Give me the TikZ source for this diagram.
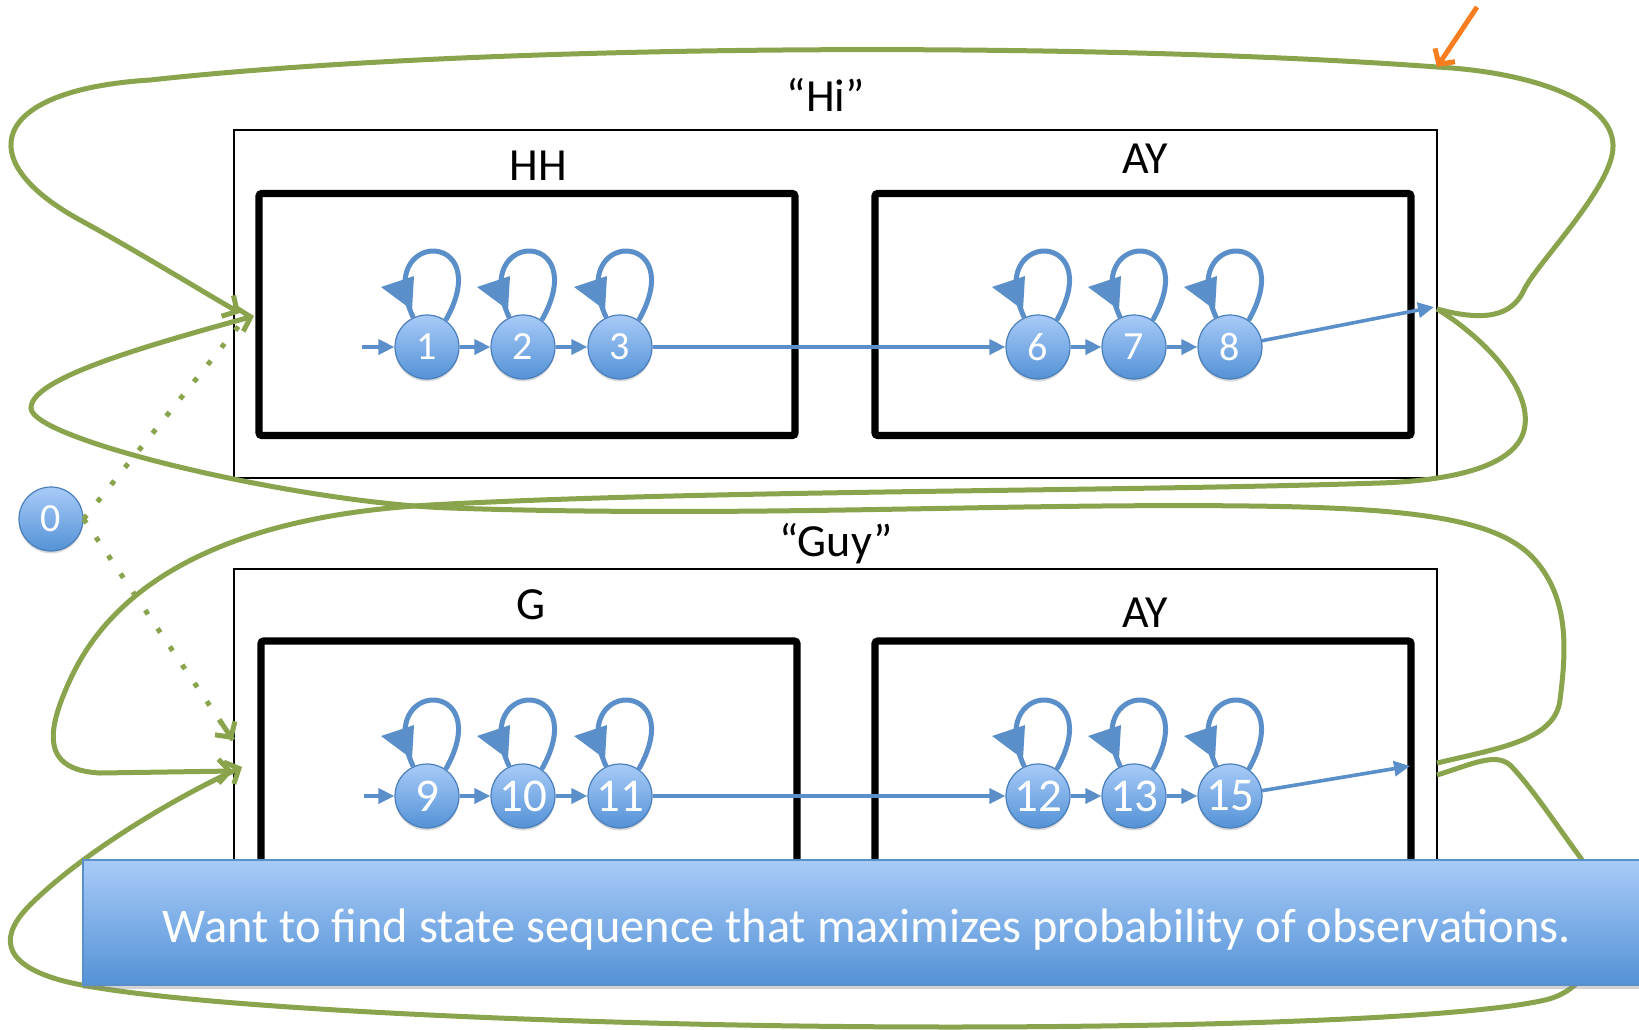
\documentclass[tikz,border=0pt]{standalone}
\usepackage{fontspec}
\setmainfont{Carlito}
\usetikzlibrary{arrows.meta,calc,shadows}

\definecolor{pathgreen}{RGB}{137,164,76}
\definecolor{stateblue}{RGB}{91,143,201}
\definecolor{stateedge}{RGB}{74,126,187}
\definecolor{statetop}{RGB}{168,203,248}
\definecolor{statebot}{RGB}{84,146,214}
\definecolor{pointer}{RGB}{247,125,30}

\tikzset{
  state/.style={circle,minimum size=32pt,inner sep=0pt,draw=stateedge,line width=0.6pt,
    top color=statetop,bottom color=statebot,text=white,font=\fontsize{20pt}{20pt}\selectfont,
    drop shadow={opacity=0.3,shadow xshift=0pt,shadow yshift=-1.2pt}},
  bigstate/.style={state,font=\fontsize{23.5pt}{23.5pt}\selectfont},
  wordbox/.style={draw,line width=0.9pt,minimum width=601.5pt,minimum height=174pt,inner sep=0pt},
  phonebox/.style={draw,line width=3.7pt,rounded corners=1.5pt,minimum width=268pt,minimum height=121pt,inner sep=0pt},
  boxlabel/.style={anchor=base,inner sep=0pt,font=\fontsize{23pt}{23pt}\selectfont},
  hop/.style={stateblue,line width=1.8pt,-{Triangle[length=8pt,width=7.5pt]}},
  selfloop/.style={stateblue,line width=2.5pt},
  wordpath/.style={pathgreen,line width=2.5pt,-{Straight Barb[length=5.5pt,width=12pt]}},
  startlink/.style={pathgreen,line width=2.5pt,dash pattern=on 2.5pt off 8.5pt},
  banner/.style={draw=stateblue,line width=0.6pt,top color=statetop,bottom color=statebot,
    minimum width=784pt,minimum height=62.5pt,inner sep=0pt,text=white,
    text height=19.5pt,text depth=0pt,font=\fontsize{24.2pt}{24.2pt}\selectfont,
    drop shadow={opacity=0.35,shadow xshift=0pt,shadow yshift=-2pt}}
}

% self transition: loop plus its arrow head
\newcommand{\stateloop}[1]{%
  \draw[selfloop] (#1.115) .. controls +(-41,-89) and +(52,-92) .. (#1.55);
  \fill[stateblue] ($(#1)+(-46,-60)$) -- ($(#1)+(-13,-71)$) -- ($(#1)+(-15,-37)$) -- cycle;}

\begin{document}
\begin{tikzpicture}[x=0.5pt,y=-0.5pt]
	\useasboundingbox (0,0) rectangle (1639,1029);

	% words and phones
	\node[wordbox] (HI) at (835.5,304) {};
	\node[phonebox] (HH) at (527,314.5) {};
	\node[phonebox] (AYA) at (1143,314.5) {};
	\node[wordbox] (GUY) at (835.5,743) {};
	\node[phonebox] (G) at (529,762) {};
	\node[phonebox] (AYB) at (1143,762) {};

	\node[boxlabel] (HIL) at (826,111) {“Hi”};
	\node[boxlabel] (HHL) at (538,180) {HH};
	\node[boxlabel] (AYAL) at (1145,173) {AY};
	\node[boxlabel] (GUYL) at (836,556) {“Guy”};
	\node[boxlabel] (GL) at (531,619) {G};
	\node[boxlabel] (AYBL) at (1145,627) {AY};

	% states
	\node[state] (S0) at (51,519) {0};
	\node[state] (S1) at (427,347) {1};
	\node[state] (S2) at (523,347) {2};
	\node[state] (S3) at (620,347) {3};
	\node[state] (S6) at (1038,347) {6};
	\node[state] (S7) at (1134,347) {7};
	\node[state] (S8) at (1230,347) {8};
	\node[bigstate] (S9) at (427,796) {9};
	\node[bigstate] (S10) at (523,796) {10};
	\node[bigstate] (S11) at (620,796) {11};
	\node[bigstate] (S12) at (1038,796) {12};
	\node[bigstate] (S13) at (1134,796) {13};
	\node[bigstate] (S15) at (1230,796) {15};

	\coordinate (HIIN) at (362,347);
	\coordinate (HIOUT) at (1434,307);
	\coordinate (GUYIN) at (364,796);
	\coordinate (GUYOUT) at (1410,766);

	\draw[hop] (HIIN)--(S1);
	\draw[hop] (S1)--(S2);
	\draw[hop] (S2)--(S3);
	\draw[hop] (S3)--(S6);
	\draw[hop] (S6)--(S7);
	\draw[hop] (S7)--(S8);
	\draw[hop] (S8)--(HIOUT);
	\draw[hop] (GUYIN)--(S9);
	\draw[hop] (S9)--(S10);
	\draw[hop] (S10)--(S11);
	\draw[hop] (S11)--(S12);
	\draw[hop] (S12)--(S13);
	\draw[hop] (S13)--(S15);
	\draw[hop] (S15)--(GUYOUT);

	\stateloop{S1} \stateloop{S2} \stateloop{S3}
	\stateloop{S6} \stateloop{S7} \stateloop{S8}
	\stateloop{S9} \stateloop{S10} \stateloop{S11}
	\stateloop{S12} \stateloop{S13} \stateloop{S15}

	% word to word transitions
	\coordinate (A) at (1437,309);
	\coordinate (B) at (240,313);
	\coordinate (C) at (254,316);
	\coordinate (D) at (1437,763);
	\coordinate (E) at (1437,775);
	\coordinate (F) at (233,771);
	\coordinate (H) at (242,767);
	\coordinate (HIDOT) at (246,317);
	\coordinate (GUYDOT) at (233,740);
	\coordinate (TIP) at (1437,67);
	\coordinate (TAIL) at (1477,7);

	\draw[wordpath] (A) .. controls (1485,322) and (1512,316) .. (1524,290)
		.. controls (1536,264) and (1615,185) .. (1613,145)
		.. controls (1612,100) and (1530,72) .. (TIP)
		.. controls (1100,42) and (500,42) .. (150,80)
		.. controls (-10,90) and (-30,160) .. (80,220)
		.. controls (135,250) and (200,290) .. (B);
	\draw[wordpath] (A) .. controls (1480,335) and (1530,385) .. (1525,425)
		.. controls (1520,470) and (1440,481) .. (1380,483)
		.. controls (1100,492) and (700,490) .. (430,505)
		.. controls (250,515) and (120,570) .. (70,680)
		.. controls (47,730) and (40,770) .. (100,773) -- (F);
	\draw[wordpath] (D) .. controls (1500,748) and (1555,740) .. (1560,700)
		.. controls (1566,652) and (1570,600) .. (1535,560)
		.. controls (1500,520) and (1420,508) .. (1250,506)
		.. controls (1000,503) and (750,518) .. (450,508)
		.. controls (300,503) and (31,440) .. (31,408)
		.. controls (31,380) and (130,350) .. (C);
	\draw[wordpath] (E) .. controls (1470,765) and (1495,752) .. (1510,765)
		.. controls (1530,785) and (1560,830) .. (1580,857)
		.. controls (1610,900) and (1610,985) .. (1545,1000)
		.. controls (1450,1022) and (1100,1030) .. (800,1026)
		.. controls (500,1022) and (150,1005) .. (60,980)
		.. controls (0,963) and (0,935) .. (30,905)
		.. controls (80,855) and (170,800) .. (H);

	% entry from the start state
	\draw[startlink] (S0.east)--(HIDOT);
	\draw[startlink] (S0.east)--(GUYDOT);
	\draw[wordpath] ($(S0.east)!0.91!(GUYDOT)$)--(GUYDOT);

	\draw[pointer,line width=2.5pt,-{Straight Barb[length=5.5pt,width=12pt]}] (TAIL)--(TIP);

	\node[banner] (NOTE) at (867,922.5) {Want to find state sequence that maximizes probability of observations.};
\end{tikzpicture}
\end{document}
